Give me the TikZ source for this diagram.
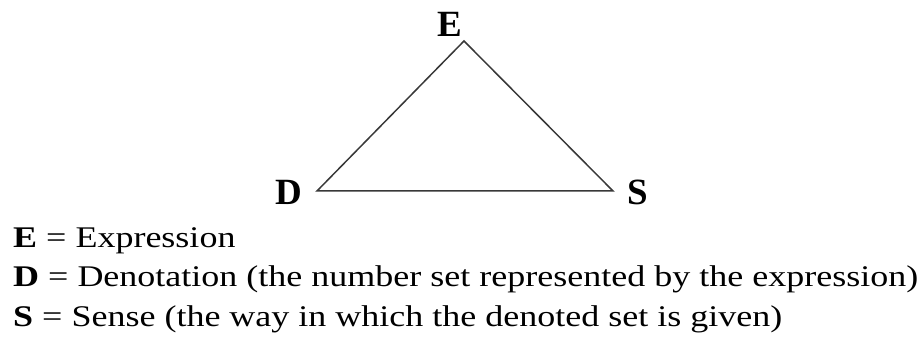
\documentclass[tikz,border=0pt]{standalone}
\usepackage{fontspec}
\setmainfont{Liberation Serif}
\newfontfamily\legendfont[FakeStretch=1.2]{Liberation Serif}
\usepackage{tikz}
\usetikzlibrary{positioning}
\definecolor{EdgeGray}{HTML}{383838}
\tikzset{
  corner/.style={inner sep=0pt, text=black, font=\fontsize{37}{37}\selectfont\bfseries, anchor=base},
  side/.style={draw=EdgeGray, line width=1.5pt, line join=miter},
  legend/.style={inner sep=0pt, text=black, font=\legendfont\fontsize{30}{40}\selectfont, anchor=base west},
}
\newcommand{\ybase}{14}
\newcommand{\lsep}{39}

\begin{document}
\begin{tikzpicture}[x=1pt, y=1pt]
  \useasboundingbox (0,0) rectangle (923,340);

  % --- triangle corners ----------------------------------------------------
  \coordinate (apex)  at (464,299);
  \coordinate (left)  at (317,149);
  \coordinate (right) at (613,149);
  \node[corner] (E) at (450,303) {E};
  \node[corner] (D) at (289,135) {D};
  \node[corner] (S) at (638,135) {S};

  % --- sides ---------------------------------------------------------------
  \draw[side] (apex) -- (right) -- (left) -- cycle;

  % --- legend --------------------------------------------------------------
  \node[legend] (legE) at (13,\ybase+2*\lsep) {\textbf{E} = Expression};
  \node[legend] (legD) at (13,\ybase+\lsep) {\textbf{D} = Denotation (the number set represented by the expression)};
  \node[legend] (legS) at (13,\ybase) {\textbf{S} = Sense (the way in which the denoted set is given)};

\end{tikzpicture}
\end{document}
